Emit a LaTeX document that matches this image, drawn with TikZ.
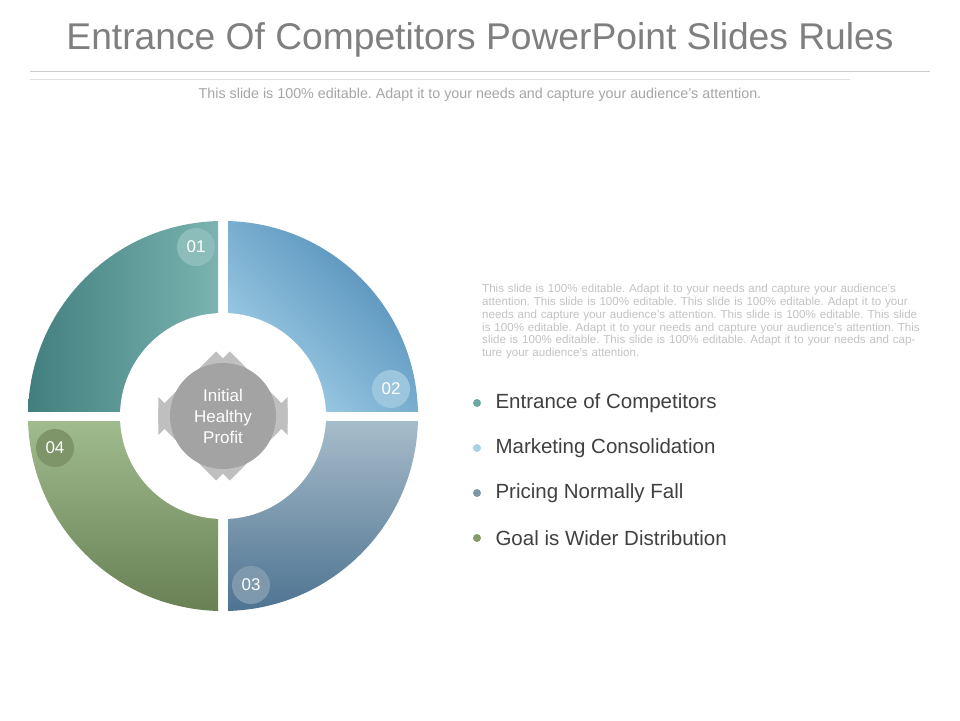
\documentclass[tikz,border=0pt]{standalone}
\usepackage{fontspec}
\setmainfont{Liberation Sans}
\frenchspacing
\usetikzlibrary{shapes.arrows,calc}
\definecolor{titlec}{HTML}{7F7F7F}
\definecolor{subc}{HTML}{A6A6A6}
\definecolor{parc}{HTML}{C3C3C3}
\definecolor{itemc}{HTML}{404040}
\definecolor{arrc}{HTML}{BFBFBF}
\definecolor{hubc}{HTML}{A3A3A3}
\definecolor{qa1}{HTML}{3F7D7C}\definecolor{qa2}{HTML}{7AB3B0}
\definecolor{qb1}{HTML}{4A86B3}\definecolor{qb2}{HTML}{A2D0E8}
\definecolor{qc1}{HTML}{A7BCCA}\definecolor{qc2}{HTML}{4C7290}
\definecolor{qd1}{HTML}{A0BB8E}\definecolor{qd2}{HTML}{677F52}
\definecolor{ba}{HTML}{8DBDBB}\definecolor{bb}{HTML}{9CC6DD}
\definecolor{bc}{HTML}{7E99AE}\definecolor{bd}{HTML}{7E9569}
\definecolor{da}{HTML}{6FA8A3}\definecolor{db}{HTML}{A8D0E6}
\definecolor{dc}{HTML}{7D97A8}\definecolor{dd}{HTML}{849B6E}
\begin{document}
\begin{tikzpicture}[x=1pt,y=-1pt,
  badge/.style={circle,minimum size=38pt,inner sep=0pt,text=white,font=\fontsize{17}{17}\selectfont},
  item/.style={anchor=west,text=itemc,font=\fontsize{20.5}{20.5}\selectfont},
  dotb/.style={circle,minimum size=8pt,inner sep=0pt},
  blk/.style={single arrow,fill=arrc,minimum height=92pt,minimum width=38pt,single arrow head extend=5pt,single arrow tip angle=90,inner sep=6pt,single arrow head indent=0pt}]
\useasboundingbox (0,0) rectangle (960,720);
\fill[white] (0,0) rectangle (960,720);
\node[text=titlec,font=\fontsize{37.2}{37.2}\selectfont] (title) at (480,40) {Entrance Of Competitors PowerPoint Slides Rules};
\draw[gray!40] (30,71) -- (930,71);
\draw[gray!25] (30,79) -- (850,79);
\node[text=subc,font=\fontsize{14.3}{14.3}\selectfont] (sub) at (480,95) {This slide is 100\% editable. Adapt it to your needs and capture your audience's attention.};
% ring
\coordinate (c) at (223,416);
\begin{scope}
\clip (c) circle (195);
\shade[left color=qa1, right color=qa2] (20,210) rectangle (218,411);
\shade[top color=qb1, bottom color=qb2, shading angle=-45] (228,210) rectangle (425,411);
\shade[top color=qc1, bottom color=qc2] (228,421) rectangle (425,615);
\shade[top color=qd1, bottom color=qd2] (20,421) rectangle (218,615);
\end{scope}
\fill[white] (c) circle (103);
% arrows
\node[blk,rotate=45] (a1) at ($(c)+(45:40)$) {};
\node[blk,rotate=135] (a2) at ($(c)+(135:40)$) {};
\node[blk,rotate=225] (a3) at ($(c)+(225:40)$) {};
\node[blk,rotate=315] (a4) at ($(c)+(315:40)$) {};
\node[circle,fill=hubc,minimum size=106pt,text=white,align=center,font=\fontsize{17}{21}\selectfont] (hub) at (c) {Initial\\Healthy\\Profit};
% badges
\node[badge,fill=ba] (b1) at (196,247) {01};
\node[badge,fill=bb] (b2) at (391,389) {02};
\node[badge,fill=bc] (b3) at (251,585) {03};
\node[badge,fill=bd] (b4) at (55,448) {04};
% text
\node[anchor=north west,text width=440pt,align=left,text=parc,font=\fontsize{11.6}{12.8}\selectfont,inner sep=0pt] (para) at (482,284) {This slide is 100\% editable. Adapt it to your needs and capture your audience's attention. This slide is 100\% editable. This slide is 100\% editable. Adapt it to your needs and capture your audience's attention. This slide is 100\% editable. This slide is 100\% editable. Adapt it to your needs and capture your audience's attention. This slide is 100\% editable. This slide is 100\% editable. Adapt it to your needs and capture your audience's attention.};
\node[dotb,fill=da] (d1) at (477,403) {};
\node[dotb,fill=db] (d2) at (477,448) {};
\node[dotb,fill=dc] (d3) at (477,493) {};
\node[dotb,fill=dd] (d4) at (477,538) {};
\node[item] (t1) at (492,403) {Entrance of Competitors};
\node[item] (t2) at (492,448) {Marketing Consolidation};
\node[item] (t3) at (492,493) {Pricing Normally Fall};
\node[item] (t4) at (492,538) {Goal is Wider Distribution};
\end{tikzpicture}
\end{document}
